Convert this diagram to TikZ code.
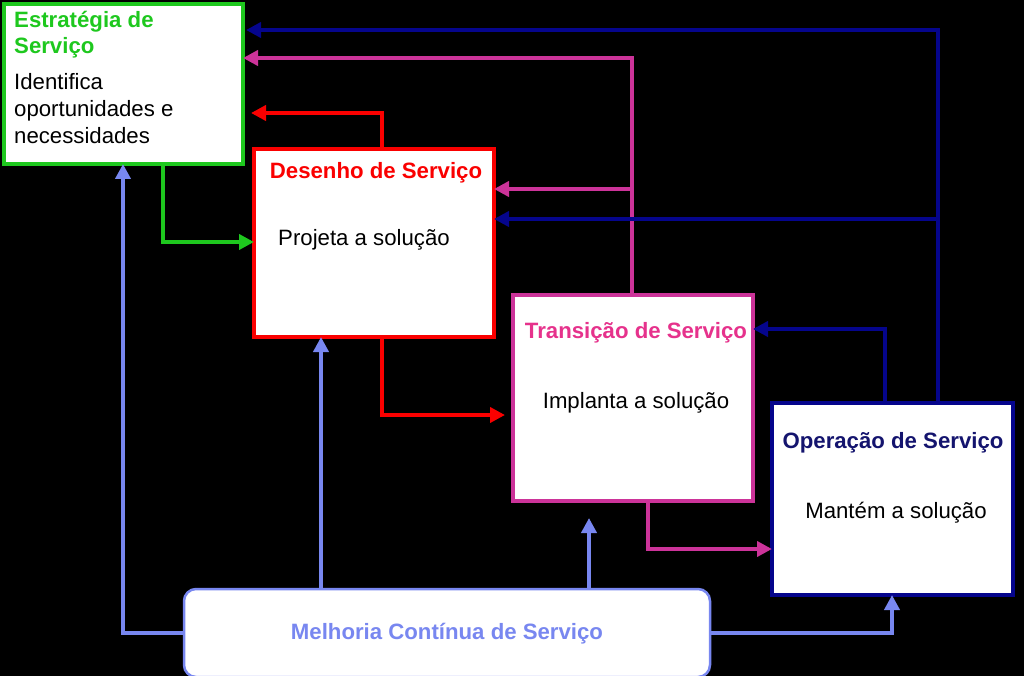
\documentclass[tikz,border=0pt]{standalone}
\usepackage{fontspec}
\setmainfont{Liberation Sans}
\usetikzlibrary{arrows.meta}
\definecolor{cgreen}{RGB}{30,200,30}
\definecolor{cred}{RGB}{250,0,0}
\definecolor{cmag}{RGB}{204,51,153}
\definecolor{cpink}{RGB}{230,50,140}
\definecolor{cnavy}{RGB}{5,5,140}
\definecolor{cnavyt}{RGB}{20,20,110}
\definecolor{clblue}{RGB}{120,135,240}
\tikzset{
  box/.style={draw, fill=white, line width=4.5pt, rectangle, inner sep=0pt, outer sep=0pt},
  ttl/.style={font=\fontsize{22.2}{27}\selectfont\bfseries, inner sep=0pt, anchor=base},
  txt/.style={font=\fontsize{22.2}{27}\selectfont, inner sep=0pt, anchor=base, text=black},
  arr/.style={line width=4.5pt, -{Triangle[length=15pt,width=15pt]}, line join=miter},
}
\begin{document}
\begin{tikzpicture}[x=1pt,y=-1pt]
\useasboundingbox (0,0) rectangle (1024,676);
\fill[black] (0,0) rectangle (1024,676);

% boxes
\node[box, draw=cgreen, minimum width=239pt, minimum height=160pt] (strat) at (123.5,84) {};
\node[box, draw=cred, minimum width=240pt, minimum height=188pt] (des) at (374,243) {};
\node[box, draw=cmag, minimum width=240pt, minimum height=206pt] (trans) at (633,398) {};
\node[box, draw=cnavy, minimum width=241pt, minimum height=192pt] (op) at (892.5,499) {};
\node[draw=clblue, fill=white, line width=2.5pt, rounded corners=12pt, minimum width=526pt, minimum height=88pt, inner sep=0pt, outer sep=0pt] (mel) at (447,633) {};

% texts
\node[ttl, text=cgreen, anchor=base west] (st1) at (14,27.5) {Estratégia de};
\node[ttl, text=cgreen, anchor=base west] (st2) at (14,54) {Serviço};
\node[txt, anchor=base west] (sb1) at (14,90) {Identifica};
\node[txt, anchor=base west] (sb2) at (14,117) {oportunidades e};
\node[txt, anchor=base west] (sb3) at (14,144) {necessidades};

\node[ttl, text=cred] (dt) at (376,179) {Desenho de Serviço};
\node[txt] (db) at (364,245) {Projeta a solução};

\node[ttl, text=cpink] (tt) at (636,338) {Transição de Serviço};
\node[txt] (tb) at (636,408) {Implanta a solução};

\node[ttl, text=cnavyt] (ot) at (893,448) {Operação de Serviço};
\node[txt] (ob) at (896,518) {Mantém a solução};

\node[ttl, text=clblue] (mt) at (447,639) {Melhoria Contínua de Serviço};

% connectors
\coordinate (mj) at (632,189);
\coordinate (nj) at (938,219);

% green
\draw[arr, cgreen] (strat.south -| 163,0) |- (des.west |- 0,242);
% red
\draw[arr, cred, shorten >=8pt] (des.north -| 382,0) |- (strat.east |- 0,113);
\draw[arr, cred, shorten >=8pt] (des.south -| 382,0) |- (trans.west |- 0,415);
% magenta
\draw[arr, cmag] (trans.north -| 632,0) |- (strat.east |- 0,58);
\draw[arr, cmag] (mj) -- (des.east |- mj);
\draw[arr, cmag] (trans.south -| 648,0) |- (op.west |- 0,549);
% navy
\draw[arr, cnavy, shorten >=3pt] (op.north -| 938,0) |- (strat.east |- 0,30);
\draw[arr, cnavy] (nj) -- (des.east |- nj);
\draw[arr, cnavy] (op.north -| 885,0) |- (trans.east |- 0,329);
% light blue
\draw[arr, clblue] (mel.west) -| (strat.south -| 123,0);
\draw[arr, clblue] (mel.north -| 321,0) -- (des.south -| 321,0);
\draw[arr, clblue, shorten >=17pt] (mel.north -| 589,0) -- (trans.south -| 589,0);
\draw[arr, clblue] (mel.east) -| (op.south -| 892,0);
\end{tikzpicture}
\end{document}
